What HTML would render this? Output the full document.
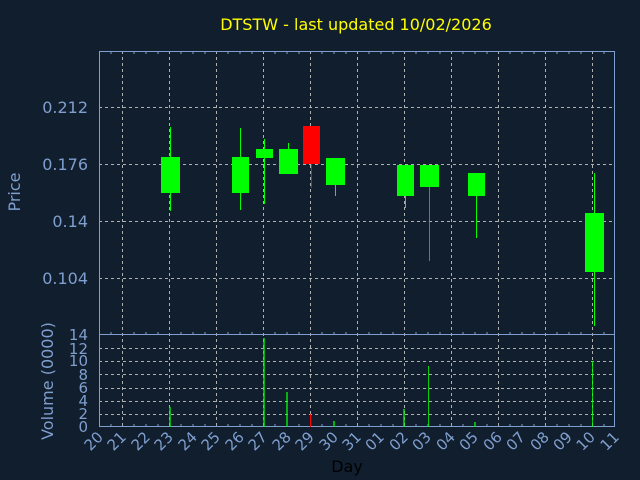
<!DOCTYPE html>
<html><head><style>
body{margin:0;background:#111e2e;}
svg{display:block;font-family:"DejaVu Sans","Liberation Sans",sans-serif;}
</style></head><body>
<svg width="640" height="480" viewBox="0 0 640 480">
<rect width="640" height="480" fill="#111e2e"/>
<text x="356" y="30" fill="#ffff00" font-size="16" text-anchor="middle">DTSTW - last updated 10/02/2026</text>
<g stroke="#b0b0b0" stroke-dasharray="3,3" stroke-width="1">
<line x1="99" x2="615" y1="107.5" y2="107.5"/>
<line x1="99" x2="615" y1="164.5" y2="164.5"/>
<line x1="99" x2="615" y1="221.5" y2="221.5"/>
<line x1="99" x2="615" y1="278.5" y2="278.5"/>
<line x1="99" x2="615" y1="348.5" y2="348.5"/>
<line x1="99" x2="615" y1="361.5" y2="361.5"/>
<line x1="99" x2="615" y1="374.5" y2="374.5"/>
<line x1="99" x2="615" y1="388.5" y2="388.5"/>
<line x1="99" x2="615" y1="401.5" y2="401.5"/>
<line x1="99" x2="615" y1="414.5" y2="414.5"/>
<line x1="122.5" x2="122.5" y1="51" y2="427"/>
<line x1="169.5" x2="169.5" y1="51" y2="427"/>
<line x1="216.5" x2="216.5" y1="51" y2="427"/>
<line x1="263.5" x2="263.5" y1="51" y2="427"/>
<line x1="310.5" x2="310.5" y1="51" y2="427"/>
<line x1="357.5" x2="357.5" y1="51" y2="427"/>
<line x1="404.5" x2="404.5" y1="51" y2="427"/>
<line x1="451.5" x2="451.5" y1="51" y2="427"/>
<line x1="498.5" x2="498.5" y1="51" y2="427"/>
<line x1="545.5" x2="545.5" y1="51" y2="427"/>
<line x1="592.5" x2="592.5" y1="51" y2="427"/>
</g>
<g fill="none" stroke="#7f9fcf" stroke-width="1">
<rect x="99.5" y="51.5" width="515" height="283"/>
<rect x="99.5" y="334.5" width="515" height="92"/>
</g>
<g stroke="#7f9fcf" stroke-width="1">
<path d="M111 51v3M134 51v3M146 51v3M158 51v3M181 51v3M193 51v3M205 51v3M228 51v3M240 51v3M252 51v3M275 51v3M287 51v3M299 51v3M322 51v3M334 51v3M346 51v3M369 51v3M381 51v3M393 51v3M416 51v3M428 51v3M440 51v3M463 51v3M475 51v3M487 51v3M510 51v3M522 51v3M534 51v3M557 51v3M569 51v3M581 51v3M604 51v3"/>
<path d="M111 335v-3M134 335v-3M146 335v-3M158 335v-3M181 335v-3M193 335v-3M205 335v-3M228 335v-3M240 335v-3M252 335v-3M275 335v-3M287 335v-3M299 335v-3M322 335v-3M334 335v-3M346 335v-3M369 335v-3M381 335v-3M393 335v-3M416 335v-3M428 335v-3M440 335v-3M463 335v-3M475 335v-3M487 335v-3M510 335v-3M522 335v-3M534 335v-3M557 335v-3M569 335v-3M581 335v-3M604 335v-3"/>
<path d="M111 427v-3M134 427v-3M146 427v-3M158 427v-3M181 427v-3M193 427v-3M205 427v-3M228 427v-3M240 427v-3M252 427v-3M275 427v-3M287 427v-3M299 427v-3M322 427v-3M334 427v-3M346 427v-3M369 427v-3M381 427v-3M393 427v-3M416 427v-3M428 427v-3M440 427v-3M463 427v-3M475 427v-3M487 427v-3M510 427v-3M522 427v-3M534 427v-3M557 427v-3M569 427v-3M581 427v-3M604 427v-3"/>
</g>
<g fill="#00ff00" stroke="#00ff00">
<line x1="170.5" x2="170.5" y1="127" y2="211"/><rect x="161" y="157" width="19" height="36" stroke="none"/>
<line x1="240.5" x2="240.5" y1="128" y2="210"/><rect x="232" y="157" width="17" height="36" stroke="none"/>
<line x1="264.5" x2="264.5" y1="139" y2="204"/><rect x="256" y="149" width="17" height="9" stroke="none"/>
<line x1="288.5" x2="288.5" y1="143" y2="150"/><rect x="279" y="149" width="19" height="25" stroke="none"/>
<line x1="335.5" x2="335.5" y1="160" y2="196"/><rect x="326" y="158" width="19" height="27" stroke="none"/>
<line x1="405.5" x2="405.5" y1="165" y2="208"/><rect x="397" y="165" width="17" height="31" stroke="none"/>
<line x1="429.5" x2="429.5" y1="165" y2="261" stroke-width="0.7"/><rect x="420" y="165" width="19" height="22" stroke="none"/>
<line x1="476.5" x2="476.5" y1="173" y2="238"/><rect x="468" y="173" width="17" height="23" stroke="none"/>
<line x1="594.5" x2="594.5" y1="173" y2="326"/><rect x="585" y="213" width="19" height="59" stroke="none"/>
</g>
<line x1="311.5" x2="311.5" y1="160" y2="188" stroke="#ff0000"/><rect x="303" y="126" width="17" height="38" fill="#ff0000"/>
<g stroke="#00ff00" stroke-width="1.3">
<line x1="170" x2="170" y1="407" y2="427"/>
<line x1="264" x2="264" y1="338" y2="427"/>
<line x1="287" x2="287" y1="392" y2="427"/>
<line x1="334" x2="334" y1="421" y2="427"/>
<line x1="404" x2="404" y1="409" y2="427"/>
<line x1="428.5" x2="428.5" y1="366" y2="427" stroke-width="0.8"/>
<line x1="475" x2="475" y1="422" y2="427"/>
<line x1="592.5" x2="592.5" y1="361" y2="427" stroke-width="0.8"/>
</g>
<line x1="310.5" x2="310.5" y1="414" y2="427" stroke="#ff0000"/>
<g fill="#7f9fcf" font-size="16" text-anchor="end">
<text x="88" y="113">0.212</text>
<text x="88" y="170">0.176</text>
<text x="88" y="227">0.14</text>
<text x="88" y="284">0.104</text>
</g>
<g fill="#7f9fcf" font-size="15" text-anchor="end">
<text x="88" y="340">14</text><text x="88" y="354">12</text><text x="88" y="366">10</text>
<text x="88" y="380">8</text><text x="88" y="393">6</text><text x="88" y="406">4</text>
<text x="88" y="419">2</text><text x="88" y="432">0</text>
</g>
<text transform="translate(20,192) rotate(-90)" fill="#7f9fcf" font-size="16" text-anchor="middle">Price</text>
<text transform="translate(53,381) rotate(-90)" fill="#7f9fcf" font-size="16" text-anchor="middle">Volume (0000)</text>
<g fill="#7f9fcf" font-size="15" text-anchor="end">
<text transform="translate(104,438) rotate(-45)">20</text>
<text transform="translate(127,438) rotate(-45)">21</text>
<text transform="translate(151,438) rotate(-45)">22</text>
<text transform="translate(174,438) rotate(-45)">23</text>
<text transform="translate(198,438) rotate(-45)">24</text>
<text transform="translate(221,438) rotate(-45)">25</text>
<text transform="translate(245,438) rotate(-45)">26</text>
<text transform="translate(268,438) rotate(-45)">27</text>
<text transform="translate(292,438) rotate(-45)">28</text>
<text transform="translate(315,438) rotate(-45)">29</text>
<text transform="translate(339,438) rotate(-45)">30</text>
<text transform="translate(362,438) rotate(-45)">31</text>
<text transform="translate(385,438) rotate(-45)">01</text>
<text transform="translate(409,438) rotate(-45)">02</text>
<text transform="translate(432,438) rotate(-45)">03</text>
<text transform="translate(456,438) rotate(-45)">04</text>
<text transform="translate(479,438) rotate(-45)">05</text>
<text transform="translate(503,438) rotate(-45)">06</text>
<text transform="translate(526,438) rotate(-45)">07</text>
<text transform="translate(550,438) rotate(-45)">08</text>
<text transform="translate(573,438) rotate(-45)">09</text>
<text transform="translate(596,438) rotate(-45)">10</text>
<text transform="translate(620,438) rotate(-45)">11</text>
</g>
<text x="347" y="472" fill="#000" font-size="16" text-anchor="middle">Day</text>
</svg>
</body></html>
